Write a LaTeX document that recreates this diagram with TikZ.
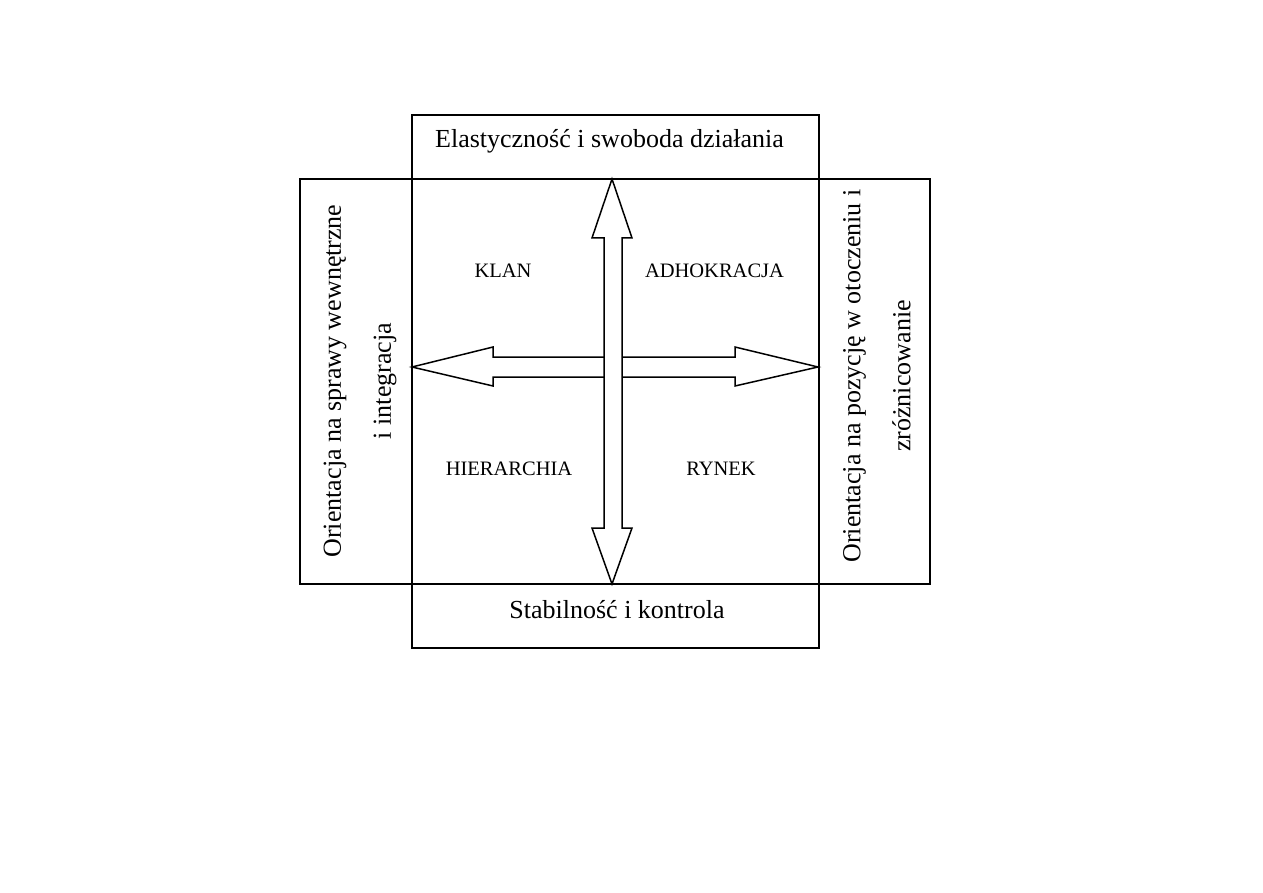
\documentclass[tikz,border=0pt]{standalone}
\usepackage{fontspec}
\setmainfont{Liberation Serif}
\begin{document}
\begin{tikzpicture}[x=1pt,y=-1pt,
  box/.style={draw=black,line width=1.6pt},
  bigarrow/.style={draw=black,fill=white,line width=1.5pt,line join=miter},
  title/.style={font=\fontsize{26}{30}\selectfont,anchor=base,inner sep=0pt},
  quad/.style={font=\fontsize{20.5}{24}\selectfont,anchor=base,inner sep=0pt},
  side/.style={font=\fontsize{26}{50}\selectfont,align=center,rotate=90,inner sep=0pt}]
\useasboundingbox (0,0) rectangle (1263,893);
\fill[white] (0,0) rectangle (1263,893);
% boxes
\draw[box] (412,115) rectangle (819,648);
\draw[box] (300,179) rectangle (930,584);
\draw[box] (412,179) -- (819,179);
\draw[box] (412,584) -- (819,584);
% horizontal double arrow
\draw[bigarrow] (412,367) -- (493,347) -- (493,357) -- (735,357) -- (735,347) -- (818,367)
  -- (735,386) -- (735,377) -- (493,377) -- (493,386) -- cycle;
% vertical double arrow
\draw[bigarrow] (612,179) -- (632,238) -- (622,238) -- (622,528) -- (632,528) -- (612,584)
  -- (592,528) -- (604,528) -- (604,238) -- (592,238) -- cycle;
% texts
\node[title] (top) at (609.5,148) {Elastyczność i swoboda działania};
\node[title] (bottom) at (617,618) {Stabilność i kontrola};
\node[quad] (klan) at (503,278) {KLAN};
\node[quad] (adho) at (714.5,278) {ADHOKRACJA};
\node[quad] (hier) at (509,475) {HIERARCHIA};
\node[quad] (rynek) at (721,475) {RYNEK};
\node[side] (left) at (360,381) {Orientacja na sprawy wewnętrzne\\i integracja};
\node[side] (right) at (877,376) {Orientacja na pozycję w otoczeniu i\\zróżnicowanie};
\end{tikzpicture}
\end{document}
